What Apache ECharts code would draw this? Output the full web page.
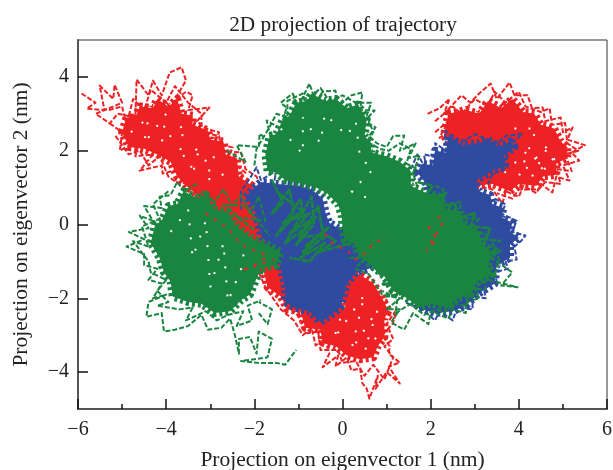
<!DOCTYPE html>
<html>
<head>
<meta charset="utf-8">
<style>html,body{margin:0;padding:0;background:#fff}#c{width:613px;height:470px}</style>
<script src="https://cdn.jsdelivr.net/npm/echarts@6/dist/echarts.min.js"></script>
</head>
<body>
<div id="c"></div>
<script>
const chartTitle = '2D projection of trajectory';
const xName = 'Projection on eigenvector 1 (nm)';
const yName = 'Projection on eigenvector 2 (nm)';
const yMajorTicks = [-4, -2, 0, 2, 4];
const yMinorTicks = [-3, -1, 1, 3];

// [x, y] in nm.
// Saturated cores of each cloud
const redUpperLeftCore = [[-5.0,2.5],[-4.9,2.9],[-4.7,2.9],[-4.6,3.2],[-4.3,3.15],[-4.2,3.4],[-3.95,3.2],[-3.75,3.4],[-3.65,3.0],[-3.4,2.95],[-3.4,2.7],[-3.05,2.55],[-3.0,2.3],[-2.7,2.25],[-2.65,1.9],[-2.4,1.8],[-2.35,1.3],[-2.05,1.05],[-1.9,0.7],[-1.75,0.3],[-1.6,-0.5],[-2.3,-0.5],[-2.7,0.2],[-3.1,0.6],[-3.5,1.0],[-3.75,1.3],[-3.9,1.7],[-4.2,1.9],[-4.5,2.05],[-4.85,2.1]];
const redBottomCore = [[-1.8,-1.2],[-1.7,-1.7],[-1.4,-1.95],[-1.25,-2.3],[-0.95,-2.35],[-0.85,-2.8],[-0.5,-2.85],[-0.45,-3.2],[-0.15,-3.3],[0.1,-3.55],[0.4,-3.65],[0.7,-3.6],[0.8,-3.3],[0.95,-3.05],[0.95,-2.55],[1.05,-2.35],[0.9,-2.0],[0.7,-1.6],[0.45,-1.4],[0.1,-1.2],[-0.7,-1.0],[-1.5,-1.0]];
const redTopRightCore = [[2.4,3.0],[2.8,3.1],[3.1,3.0],[3.3,3.35],[3.6,3.15],[3.85,3.4],[4.1,3.05],[4.35,3.0],[4.5,2.7],[4.8,2.6],[4.95,2.25],[5.1,2.1],[5.1,1.8],[4.85,1.65],[4.85,1.35],[4.55,1.3],[4.4,1.05],[4.0,1.1],[3.8,0.9],[3.4,1.1],[3.0,1.05],[2.8,1.5],[2.6,2.0],[2.3,2.4]];
const blueRightCore = [[1.7,1.4],[1.8,1.65],[2.05,1.6],[2.1,2.0],[2.35,1.95],[2.4,2.4],[2.7,2.15],[3.1,2.2],[3.3,2.3],[3.55,2.1],[3.8,2.25],[3.9,2.1],[3.65,1.85],[3.7,1.55],[3.45,1.5],[3.2,1.3],[3.0,1.2],[3.1,0.9],[3.35,0.8],[3.4,0.55],[3.65,0.45],[3.6,0.2],[3.85,0.05],[3.8,-0.2],[4.0,-0.35],[3.8,-0.55],[3.8,-0.9],[3.5,-1.1],[3.45,-1.6],[3.05,-1.9],[2.8,-2.2],[2.5,-2.35],[2.1,-2.4],[1.7,-2.25],[1.6,-1.5],[2.0,0.5],[1.9,1.1]];
const blueCentreCore = [[-2.2,0.75],[-2.0,1.0],[-1.85,1.15],[-1.5,1.1],[-1.0,1.05],[-0.7,0.95],[-0.45,0.7],[-0.38,0.3],[-0.3,0.05],[-0.1,-0.1],[0.2,-0.25],[0.5,-0.6],[0.85,-1.0],[0.6,-1.2],[0.3,-1.3],[0.1,-1.6],[-0.05,-2.25],[-0.2,-2.4],[-0.5,-2.65],[-0.75,-2.35],[-1.1,-2.25],[-1.3,-2.1],[-1.3,-1.7],[-1.4,-1.2],[-1.5,-0.8],[-1.85,-0.3],[-2.0,0.45]];
const greenCentreCore = [[-1.7,1.45],[-1.75,1.9],[-1.65,2.4],[-1.5,2.45],[-1.35,2.85],[-1.2,2.95],[-1.05,3.3],[-0.8,3.35],[-0.7,3.55],[-0.4,3.35],[-0.15,3.4],[0.1,3.15],[0.35,3.25],[0.55,2.85],[0.5,2.4],[0.65,2.2],[0.65,1.95],[1.0,1.85],[1.3,1.7],[1.55,1.45],[1.55,1.05],[1.8,0.9],[2.2,0.75],[2.3,0.45],[2.65,0.35],[2.75,0.05],[3.1,-0.2],[3.15,-0.5],[3.4,-0.75],[3.3,-1.1],[3.4,-1.35],[3.05,-1.55],[2.9,-1.9],[2.6,-2.0],[2.4,-2.25],[2.0,-2.15],[1.75,-2.25],[1.4,-1.95],[1.15,-1.8],[0.95,-1.4],[0.6,-1.05],[0.35,-0.8],[0.3,-0.55],[0.05,-0.42],[0.0,-0.1],[-0.02,0.25],[-0.1,0.55],[-0.35,0.85],[-0.6,1.0],[-0.9,1.1],[-1.3,1.2],[-1.5,1.4]];
const greenLeftCore = [[-4.35,-0.5],[-4.25,0.0],[-4.1,0.1],[-3.95,0.5],[-3.75,0.55],[-3.6,0.9],[-3.3,0.7],[-3.1,0.8],[-2.9,0.4],[-2.6,0.35],[-2.45,0.0],[-2.1,-0.35],[-1.7,-0.55],[-1.4,-0.75],[-1.5,-1.1],[-1.85,-1.2],[-2.0,-1.6],[-2.1,-1.9],[-2.3,-2.05],[-2.55,-2.35],[-2.9,-2.4],[-3.2,-2.15],[-3.5,-2.1],[-3.85,-1.95],[-3.9,-1.55],[-4.05,-1.3],[-4.15,-0.9]];

// Dashed excursions around the cores
const redUpperLeftOuter = [[-5.92,3.55],[-5.6,3.3],[-5.8,3.14],[-5.4,3.1],[-5.51,3.77],[-5.2,3.4],[-5.17,3.79],[-5.0,3.3],[-5.6,3.0],[-5.28,2.74],[-5.1,3.0],[-4.7,2.9],[-4.67,3.93],[-4.4,3.5],[-4.3,3.9],[-4.1,3.5],[-3.92,4.12],[-3.65,4.26],[-3.55,3.9],[-3.8,3.4],[-3.54,3.6],[-3.4,3.5],[-3.5,3.1],[-3.02,3.17],[-3.3,2.8],[-3.1,2.6],[-2.8,2.5],[-2.9,2.2],[-2.49,2.09],[-2.6,1.8],[-2.2,1.4],[-2.4,1.2],[-1.9,0.9]];
const redUpperLeftInner = [[-5.3,3.1],[-5.0,3.2],[-4.9,2.7],[-4.75,3.4],[-4.5,3.1],[-4.35,3.65],[-4.0,3.3],[-3.8,3.75],[-3.5,3.3],[-3.2,3.0],[-3.2,2.5],[-2.8,2.4],[-2.75,2.0],[-2.3,1.95],[-2.2,1.5],[-1.95,1.3],[-1.8,0.85]];
const redUpperLeftUnder = [[-5.28,2.74],[-5.0,2.5],[-5.05,2.0],[-4.6,2.3],[-4.7,1.85],[-4.3,1.9],[-4.6,1.46],[-4.1,1.6],[-4.08,1.38],[-3.7,1.5],[-3.8,1.15],[-3.4,1.1]];
const redUpperLeftUnder2 = [[-5.15,2.4],[-4.85,1.9],[-4.6,2.0],[-4.4,1.6],[-4.15,1.85],[-3.95,1.3],[-3.6,1.0]];
const redBottomOuter = [[-1.9,-1.3],[-1.75,-1.7],[-1.4,-2.3],[-1.1,-2.6],[-0.9,-3.0],[-0.7,-2.8],[-0.61,-3.28],[-0.4,-3.1],[-0.3,-3.5],[-0.45,-3.87],[-0.1,-3.55],[-0.16,-3.85],[0.1,-3.6],[0.2,-3.95],[0.4,-3.9],[0.45,-4.3],[0.55,-4.45],[0.61,-4.72],[0.8,-4.1],[0.75,-4.45],[1.0,-4.0],[1.3,-4.31],[1.05,-3.85],[1.3,-3.74],[1.05,-3.5],[1.07,-3.3],[0.9,-3.0],[1.13,-2.7],[1.2,-2.47],[0.95,-2.3],[1.0,-2.0]];
const redBottomInner = [[-1.3,-2.2],[-1.05,-2.4],[-0.8,-2.95],[-0.55,-2.9],[-0.5,-3.4],[-0.1,-3.4],[0.0,-3.75],[0.3,-3.7],[0.5,-4.1],[0.7,-3.8],[0.95,-4.2],[1.15,-3.6],[0.95,-3.3],[1.15,-3.1],[1.0,-2.7],[1.2,-2.35]];
const redTopRightOuter = [[1.93,3.0],[2.2,3.15],[2.43,3.41],[2.3,3.0],[2.7,3.5],[2.9,3.3],[3.1,3.55],[3.36,3.82],[3.5,3.4],[3.79,3.85],[3.9,3.5],[4.2,3.5],[4.3,3.15],[4.54,3.17],[4.6,2.8],[4.95,2.9],[5.0,2.5],[5.22,2.63],[5.1,2.3],[5.5,2.15],[5.2,1.95],[5.37,1.73],[5.0,1.6],[5.15,1.19],[4.85,1.3],[4.76,0.87],[4.5,1.1],[4.4,0.85],[4.1,1.05],[4.0,0.75],[3.7,0.9],[3.63,0.57],[3.4,0.95],[3.05,1.05]];
const redTopRightInner = [[2.1,2.8],[2.5,3.2],[2.7,3.0],[3.0,3.4],[3.3,3.2],[3.45,3.6],[3.7,3.3],[4.0,3.6],[4.15,3.2],[4.5,3.05],[4.7,3.15],[4.75,2.7],[5.05,2.75],[5.1,2.2],[5.35,2.0],[5.05,1.9],[5.2,1.45],[4.85,1.5],[4.95,1.1],[4.6,1.15],[4.45,0.95],[4.0,0.95],[3.85,0.7],[3.5,0.85]];
const redTopRightLeftEdge = [[2.1,2.5],[2.4,2.8],[2.2,2.35],[2.6,2.6]];
const blueTopRightEdge = [[1.55,1.5],[1.7,1.9],[1.9,1.5],[1.85,1.9],[2.2,1.8],[2.1,2.2],[2.35,2.0],[2.33,2.55],[2.6,2.25],[2.8,2.3],[3.0,2.45],[3.5,2.2],[3.7,2.4],[4.08,2.46],[3.8,2.15],[3.95,2.1],[3.6,1.9],[3.75,1.55],[3.4,1.35],[3.3,1.1]];
const blueRightEdge = [[3.45,0.7],[3.7,0.55],[3.6,0.3],[3.95,0.1],[3.85,-0.2],[4.15,-0.3],[4.05,-0.45],[3.9,-0.6],[3.95,-0.95],[3.7,-1.0],[3.75,-1.2],[3.45,-1.3],[3.5,-1.55],[3.2,-1.7],[3.25,-2.0],[2.95,-1.95],[2.95,-2.3],[2.6,-2.25],[2.5,-2.6],[2.2,-2.35],[2.1,-2.6],[1.8,-2.3],[1.4,-2.1]];
const blueLeftEdge = [[-2.3,0.4],[-2.3,0.9],[-2.1,1.25],[-1.95,1.55],[-1.85,1.2],[-1.5,1.46],[-1.55,1.15]];
const greenLeftOuter = [[-3.3,1.1],[-3.6,0.9],[-3.75,1.15],[-3.9,0.8],[-4.15,0.75],[-4.1,0.45],[-4.5,0.5],[-4.3,0.1],[-4.6,0.24],[-4.4,-0.1],[-4.85,-0.2],[-4.5,-0.4],[-4.9,-0.6],[-4.5,-0.8],[-4.5,-1.1],[-4.2,-1.2],[-4.4,-1.5],[-4.1,-1.6],[-4.3,-2.0],[-4.0,-1.9],[-4.4,-2.1],[-4.45,-2.5],[-4.1,-2.4],[-4.05,-2.9],[-3.8,-2.85],[-3.5,-2.75],[-3.2,-2.45],[-3.05,-2.85],[-2.75,-2.8],[-2.55,-2.55],[-2.45,-2.95],[-2.35,-3.5],[-2.35,-3.1],[-2.1,-3.05],[-1.95,-3.5],[-1.9,-2.9],[-1.6,-3.1],[-1.7,-3.6],[-2.3,-3.7],[-1.9,-3.75],[-1.5,-3.75],[-1.3,-3.8],[-1.05,-3.4]];
const greenLeftInner = [[-3.95,0.9],[-4.3,0.55],[-4.15,0.15],[-4.55,-0.05],[-4.4,-0.6],[-4.75,-0.45],[-4.4,-1.0],[-4.35,-1.3],[-4.0,-1.5],[-4.2,-1.8],[-3.95,-2.1],[-4.2,-2.2],[-3.7,-2.3],[-3.4,-2.25],[-3.55,-2.6],[-3.1,-2.35],[-2.85,-2.6],[-2.6,-2.45],[-2.25,-2.35],[-2.4,-2.75],[-2.05,-2.6],[-2.15,-2.2],[-1.85,-2.05]];
const greenLeftTop = [[-3.2,0.9],[-2.9,0.6],[-2.7,0.95],[-2.5,0.5],[-2.3,0.8],[-2.1,0.3],[-1.9,0.75],[-1.75,0.1],[-2.4,0.2],[-2.0,-0.15],[-2.7,0.55],[-2.2,0.5],[-1.65,-0.3]];
const greenLeftTail = [[-1.9,-2.4],[-1.7,-2.7],[-1.6,-2.3],[-1.9,-2.1]];
const greenTopOuter = [[-2.63,2.0],[-2.2,1.7],[-2.4,2.15],[-1.9,2.1],[-1.88,2.46],[-1.6,2.2],[-1.72,2.82],[-1.4,2.6],[-1.27,3.17],[-1.4,3.3],[-1.13,3.55],[-1.0,3.2],[-0.75,3.82],[-0.6,3.3],[-0.45,3.6],[-0.16,3.63],[-0.1,3.2],[0.2,3.5],[0.45,3.58],[0.4,3.1],[0.73,3.09],[0.5,2.8],[0.75,2.63],[0.6,2.4],[0.78,2.2],[1.0,2.1],[1.15,2.4],[1.4,2.41],[1.3,2.0],[1.66,2.2],[1.5,1.8],[1.75,1.87],[1.6,1.4],[1.7,1.0]];
const greenTopInner = [[-2.0,1.6],[-1.95,2.05],[-1.65,2.65],[-1.5,3.0],[-1.25,2.9],[-1.25,3.35],[-0.9,3.55],[-0.85,3.3],[-0.5,3.7],[-0.3,3.35],[0.0,3.5],[0.3,3.3],[0.65,3.3],[0.55,2.95],[0.7,2.5],[0.55,2.25],[0.85,2.05],[1.05,2.0],[1.3,2.2],[1.55,2.05],[1.45,1.65],[1.7,1.5]];
const greenRightOuter = [[2.1,1.05],[2.3,0.95],[2.2,0.55],[2.7,0.6],[2.6,0.2],[3.1,0.15],[2.9,-0.1],[3.3,-0.3],[3.15,-0.5],[3.6,-0.7],[3.35,-0.9],[3.5,-1.0],[3.85,-1.3],[3.6,-1.65],[3.97,-1.7],[3.3,-1.5],[3.0,-1.7],[3.1,-2.0],[2.8,-2.1],[2.8,-2.4],[2.5,-2.3],[2.4,-2.55],[2.0,-2.35],[1.95,-2.7],[1.6,-2.4],[1.4,-2.85],[1.1,-2.65],[1.3,-2.3],[1.0,-2.3],[1.3,-2.0],[0.9,-1.9],[0.6,-1.35],[0.3,-1.2],[0.5,-0.9],[0.1,-0.9]];
const greenRightInner = [[3.4,-0.5],[3.55,-0.95],[3.45,-1.4],[3.2,-1.4],[3.25,-1.75],[2.95,-1.75],[2.8,-2.2],[2.55,-2.15],[2.3,-2.4],[2.15,-2.3],[1.85,-2.45],[1.55,-2.15],[1.2,-2.4],[1.25,-2.0],[0.9,-1.8]];
// Green scribbled over the blue middle of the plot
const greenOverBlueA = [[-1.6,1.2],[-1.35,0.6],[-1.6,0.3],[-1.2,0.95],[-1.1,0.2],[-1.5,-0.3],[-0.95,0.7],[-0.85,-0.1],[-1.3,-0.5],[-0.7,0.75],[-0.65,0.0],[-1.05,-0.55],[-0.55,0.5],[-0.45,-0.2],[-0.85,-0.6],[-0.3,-0.05],[-0.6,-0.5],[-0.95,-0.9],[-0.4,-0.5],[-0.75,-1.0],[-1.2,-0.9]];
const greenOverBlueB = [[-1.45,0.85],[-0.9,0.35],[-1.35,0.05],[-0.75,0.3],[-1.2,-0.25],[-0.6,0.2],[-1.0,-0.35],[-0.55,-0.3],[-0.9,-0.75],[-0.35,-0.3],[-0.15,-0.45],[-0.55,-0.75],[-0.1,-0.6],[0.2,-0.5]];
const greenOverBlueC = [[0.6,-0.95],[0.85,-1.35],[1.1,-1.25],[0.9,-1.65],[1.25,-1.5],[1.0,-1.95],[1.5,-1.85]];
const greenOverBlueD = [[1.7,1.15],[2.05,1.05],[1.85,0.7],[2.35,0.85],[2.15,0.45],[2.55,0.55],[2.65,0.2],[3.0,0.3],[2.9,-0.05],[3.35,-0.1],[3.25,-0.4],[3.6,-0.45]];

// Small unvisited gaps inside the clouds
const redUpperLeftGaps = [[-4.8,2.5],[-4.4,2.9],[-4.5,2.2],[-4.0,3.0],[-4.1,2.2],[-3.6,2.7],[-3.7,1.8],[-3.2,2.1],[-3.5,1.4],[-2.9,1.9],[-3.1,1.2],[-2.6,1.4]];
const redBottomGaps = [[-0.5,-2.6],[0.1,-2.0],[-0.2,-3.1],[0.5,-1.9],[0.2,-3.4],[0.8,-2.3],[0.5,-3.4],[0.9,-2.9]];
const redTopRightGaps = [[3.9,2.6],[4.4,2.6],[4.0,1.3],[4.7,2.2],[4.3,1.3],[4.9,1.9],[4.6,1.5],[4.2,2.0],[3.5,1.2]];
const greenTopGaps = [[-1.4,2.6],[-0.9,1.9],[-0.9,2.9],[-0.5,2.2],[-0.4,3.0],[0.1,2.4],[0.3,2.8],[0.4,1.8],[0.7,1.5],[0.2,0.9],[0.6,0.7]];
const greenLeftGaps = [[-3.9,-0.2],[-3.5,0.4],[-3.4,-0.9],[-3.1,0.1],[-3.0,-1.7],[-2.7,-0.5],[-2.6,-2.1],[-2.3,-1.2],[-2.2,-0.5]];
// Red that shows through the green and blue
const redThroughLeft = [[-3.1,0.3],[-2.6,-0.1],[-2.3,-0.55],[-2.0,-0.7],[-1.7,-0.85],[-1.9,-1.05],[-2.3,-1.25],[-1.55,-0.95]];
const redThroughMiddle = [[-0.4,-0.25],[-0.2,-0.55],[0.1,-0.7],[0.3,-0.95],[0.55,-0.75],[0.7,-0.5],[1.0,-0.35]];
const redThroughRight = [[1.95,-0.05],[2.15,-0.4],[1.9,-0.7],[2.3,0.1],[2.05,0.3]];

const red = '#ee2224', blue = '#2e4b9f', green = '#1a8540';
const layers = [
  ['core', redUpperLeftCore, red], ['core', redBottomCore, red], ['core', redTopRightCore, red],
  ['trace', redUpperLeftOuter, red], ['trace', redUpperLeftInner, red], ['trace', redUpperLeftUnder, red], ['trace', redUpperLeftUnder2, red],
  ['trace', redBottomOuter, red], ['trace', redBottomInner, red],
  ['trace', redTopRightOuter, red], ['trace', redTopRightInner, red], ['trace', redTopRightLeftEdge, red],
  ['gap', redUpperLeftGaps], ['gap', redBottomGaps], ['gap', redTopRightGaps],
  ['core', blueRightCore, blue], ['core', blueCentreCore, blue],
  ['trace', blueTopRightEdge, blue], ['trace', blueRightEdge, blue], ['trace', blueLeftEdge, blue],
  ['core', greenCentreCore, green], ['core', greenLeftCore, green],
  ['trace', greenLeftOuter, green], ['trace', greenLeftInner, green], ['trace', greenLeftTop, green], ['trace', greenLeftTail, green],
  ['trace', greenTopOuter, green], ['trace', greenTopInner, green],
  ['trace', greenRightOuter, green], ['trace', greenRightInner, green],
  ['scribble', greenOverBlueA, green], ['scribble', greenOverBlueB, green], ['scribble', greenOverBlueC, green], ['scribble', greenOverBlueD, green],
  ['gap', greenTopGaps], ['gap', greenLeftGaps],
  ['speck', redThroughLeft, red], ['speck', redThroughMiddle, red], ['speck', redThroughRight, red]
];

const font = 'Liberation Serif';
const textColor = '#222';
const minus = v => String(v).replace('-', '\u2212');
const lineStyles = {
  trace: color => ({color, width: 2, type: [5, 2], join: 'round', cap: 'butt'}),
  scribble: color => ({color, width: 2.6, type: [7, 1], join: 'round', cap: 'butt'}),
  gap: () => ({color: '#fff', width: 2, type: [2, 12], cap: 'butt'}),
  speck: color => ({color, width: 2, type: [3, 7], cap: 'butt'})
};
const toSeries = ([kind, data, color], i) => {
  if (kind === 'core') {
    return {type: 'custom', coordinateSystem: 'cartesian2d', data, z: i + 2, silent: true,
      encode: {x: 0, y: 1},
      renderItem: (params, api) => params.dataIndex !== 0 ? null : {
        type: 'polygon',
        shape: {points: data.map(p => api.coord(p))},
        style: {fill: color, stroke: color, lineWidth: 8, lineDash: [3, 3], lineJoin: 'round'}
      }};
  }
  return {type: 'line', data, symbol: 'none', silent: true, z: i + 2, lineStyle: lineStyles[kind](color)};
};

const chart = echarts.init(document.getElementById('c'), null, {renderer: 'canvas'});
chart.setOption({
  animation: false,
  backgroundColor: '#fff',
  title: {text: chartTitle, left: 338, top: 10, textAlign: 'center', textStyle: {fontFamily: font, fontSize: 21.3, fontWeight: 'normal', color: textColor}},
  grid: {left: 78, right: 6, top: 40, bottom: 61, outerBoundsMode: 'none', show: true, borderColor: '#333', borderWidth: 1, backgroundColor: 'transparent'},
  xAxis: {type: 'value', min: -6, max: 6, interval: 2, name: xName, nameLocation: 'middle', nameGap: 40,
    nameTextStyle: {fontFamily: font, fontSize: 21.5, color: textColor},
    axisLine: {onZero: false, lineStyle: {color: '#555', width: 2}},
    axisTick: {inside: true, length: 10, lineStyle: {color: '#111', width: 1.5}},
    minorTick: {show: true, splitNumber: 2, length: 5, lineStyle: {color: '#111', width: 1.5}},
    splitLine: {show: false},
    axisLabel: {fontFamily: font, fontSize: 20, color: textColor, margin: 11, formatter: minus}},
  yAxis: [
    {type: 'value', min: -5, max: 5, name: yName, nameLocation: 'middle', nameGap: 46,
     nameTextStyle: {fontFamily: font, fontSize: 21.5, color: textColor},
     axisLine: {onZero: false, lineStyle: {color: '#555', width: 2}},
     axisTick: {inside: true, length: 10, customValues: yMajorTicks, lineStyle: {color: '#111', width: 1.5}},
     splitLine: {show: false},
     axisLabel: {fontFamily: font, fontSize: 20, color: textColor, margin: 9, customValues: yMajorTicks, formatter: minus}},
    {type: 'value', min: -5, max: 5, position: 'left',
     axisLine: {show: false}, splitLine: {show: false},
     axisTick: {show: true, inside: true, length: 5, customValues: yMinorTicks, lineStyle: {color: '#111', width: 1.5}},
     axisLabel: {show: false, customValues: yMinorTicks}}
  ],
  series: layers.map(toSeries)
});
</script>
</body>
</html>
